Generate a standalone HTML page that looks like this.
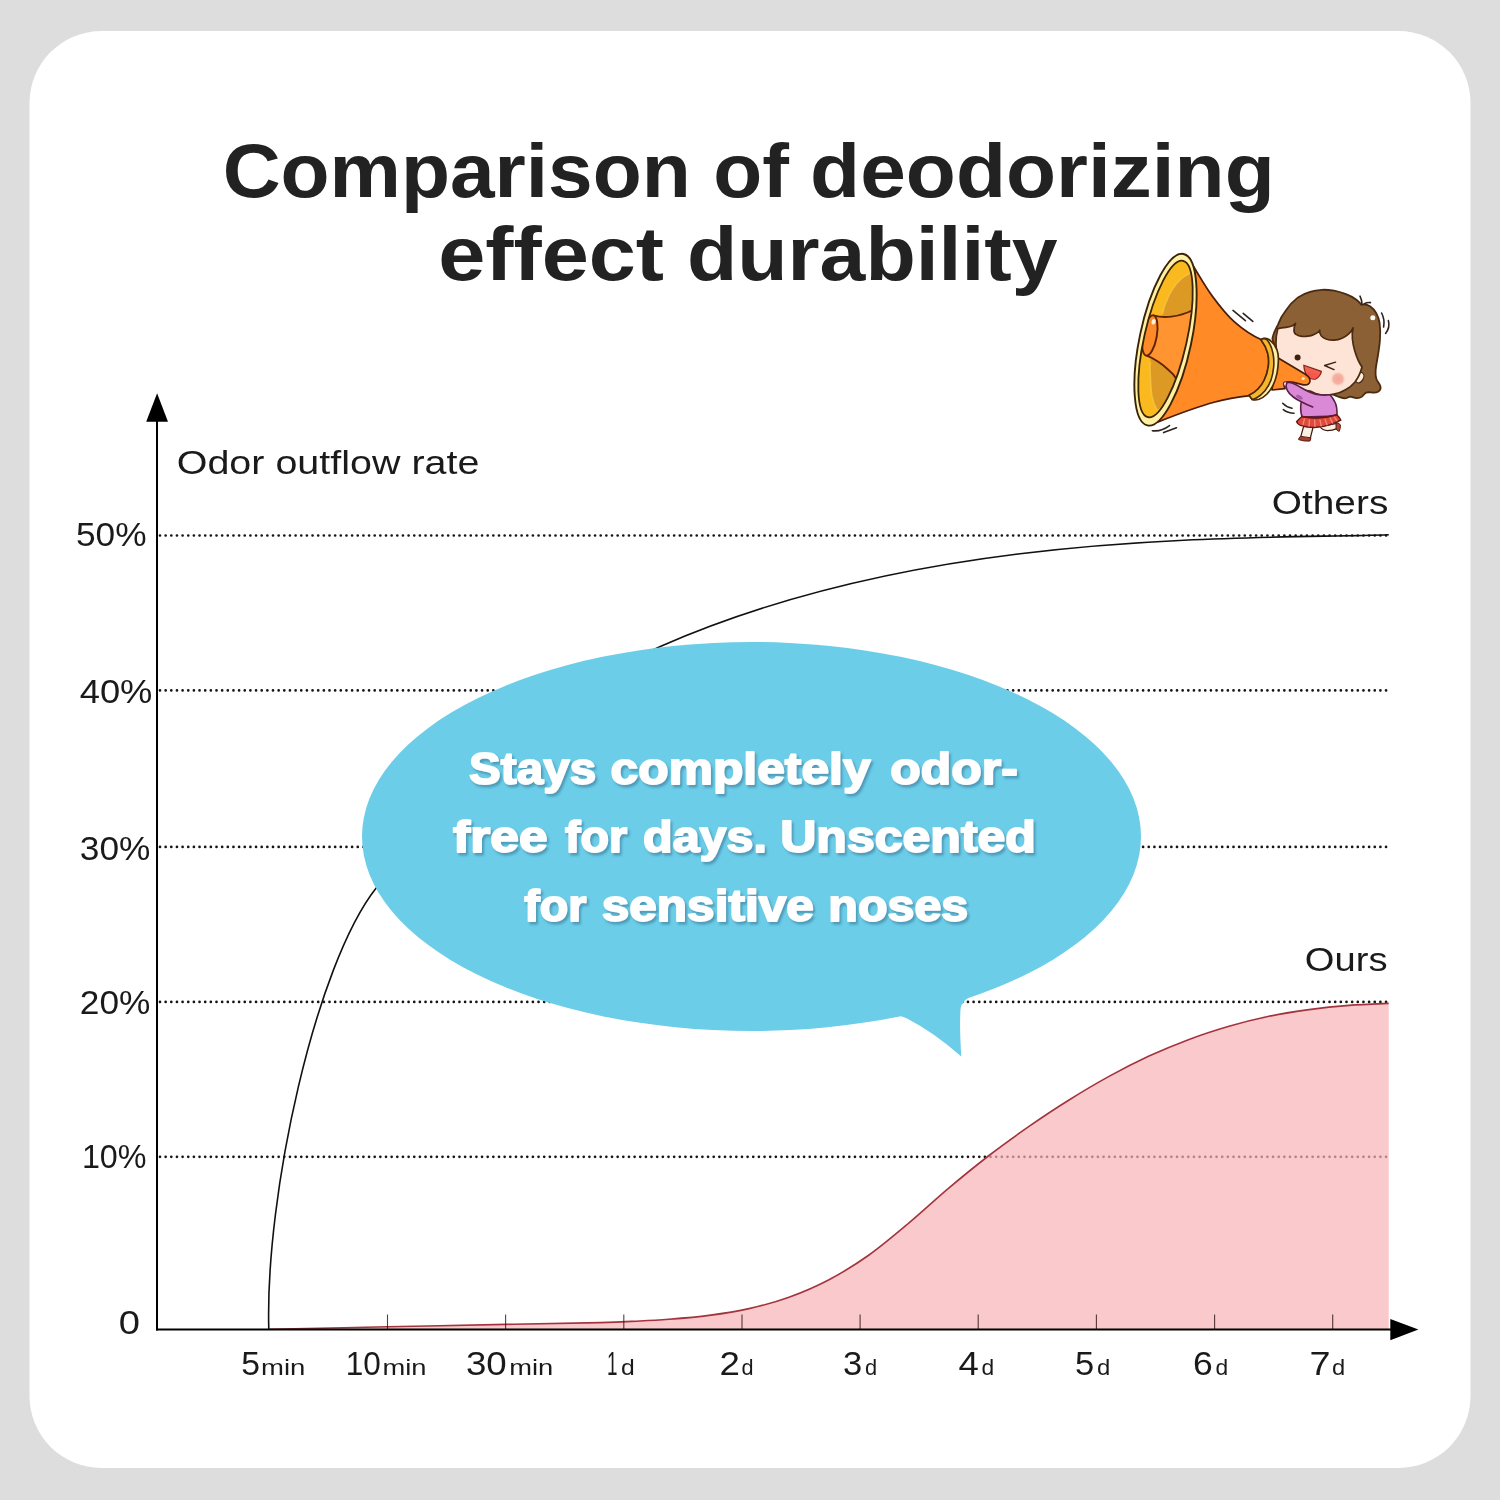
<!DOCTYPE html>
<html><head><meta charset="utf-8"><title>Comparison of deodorizing effect durability</title>
<style>
html,body{margin:0;padding:0;background:#dddddd;}
body{width:1500px;height:1500px;overflow:hidden;}
svg{display:block;font-family:"Liberation Sans",sans-serif;}
</style></head><body>
<svg width="1500" height="1500" viewBox="0 0 1500 1500">
<defs>
<filter id="ts" x="-5%" y="-20%" width="110%" height="150%"><feDropShadow dx="2" dy="2.6" stdDeviation="1.3" flood-color="#3c7d9b" flood-opacity="0.62"/></filter>
</defs>
<rect width="1500" height="1500" fill="#dddddd"/>
<rect x="29.5" y="31" width="1441" height="1437" rx="72" ry="72" fill="#ffffff"/>
<!-- grid -->
<g stroke="#151515" stroke-width="2.7" stroke-linecap="round" stroke-dasharray="0 5.65" fill="none">
<line x1="160" y1="535.5" x2="1388" y2="535.5"/>
<line x1="160" y1="690.4" x2="1388" y2="690.4"/>
<line x1="160" y1="846.9" x2="1388" y2="846.9"/>
<line x1="160" y1="1001.9" x2="1388" y2="1001.9"/>
<line x1="160" y1="1156.8" x2="1388" y2="1156.8"/>
</g>
<!-- others curve -->
<path d="M268.8 1329.5 C265 1194.7 315.5 965 376 888.2 C448.6 796 565.9 687.9 659.7 646.7 C927.6 529.1 1237 539.8 1388.8 534.7" fill="none" stroke="#111" stroke-width="1.6"/>
<!-- ours -->
<path d="M269.5 1329.3 C289.2 1328.9 348.6 1327.6 388.0 1326.8 C427.4 1326.0 470.7 1325.1 506.0 1324.4 C541.3 1323.7 577.7 1323.2 600.0 1322.6 C622.3 1322.0 628.5 1321.5 640.0 1321.0 C651.5 1320.5 657.5 1320.2 669.0 1319.3 C680.5 1318.4 695.7 1317.2 709.0 1315.4 C722.3 1313.6 735.7 1311.6 749.0 1308.6 C762.3 1305.6 775.7 1302.0 789.0 1297.2 C802.3 1292.4 815.7 1286.7 829.0 1279.7 C842.3 1272.7 855.7 1264.5 869.0 1255.0 C882.3 1245.5 895.7 1234.1 909.0 1222.9 C922.3 1211.7 935.7 1199.1 949.0 1187.9 C962.3 1176.7 975.7 1165.8 989.0 1155.5 C1002.3 1145.2 1015.7 1135.7 1029.0 1126.4 C1042.3 1117.2 1055.7 1108.3 1069.0 1100.0 C1082.3 1091.7 1095.7 1083.7 1109.0 1076.4 C1122.3 1069.1 1135.7 1062.3 1149.0 1056.1 C1162.3 1049.9 1175.7 1044.4 1189.0 1039.4 C1202.3 1034.4 1215.7 1030.1 1229.0 1026.2 C1242.3 1022.4 1255.7 1019.1 1269.0 1016.3 C1282.3 1013.5 1295.7 1011.4 1309.0 1009.6 C1322.3 1007.8 1335.7 1006.4 1349.0 1005.4 C1362.3 1004.4 1382.1 1003.7 1388.7 1003.4 L1388.7 1330 L269.5 1330 Z" fill="#f6b2b5" fill-opacity="0.7" stroke="none"/>
<path d="M269.5 1329.3 C289.2 1328.9 348.6 1327.6 388.0 1326.8 C427.4 1326.0 470.7 1325.1 506.0 1324.4 C541.3 1323.7 577.7 1323.2 600.0 1322.6 C622.3 1322.0 628.5 1321.5 640.0 1321.0 C651.5 1320.5 657.5 1320.2 669.0 1319.3 C680.5 1318.4 695.7 1317.2 709.0 1315.4 C722.3 1313.6 735.7 1311.6 749.0 1308.6 C762.3 1305.6 775.7 1302.0 789.0 1297.2 C802.3 1292.4 815.7 1286.7 829.0 1279.7 C842.3 1272.7 855.7 1264.5 869.0 1255.0 C882.3 1245.5 895.7 1234.1 909.0 1222.9 C922.3 1211.7 935.7 1199.1 949.0 1187.9 C962.3 1176.7 975.7 1165.8 989.0 1155.5 C1002.3 1145.2 1015.7 1135.7 1029.0 1126.4 C1042.3 1117.2 1055.7 1108.3 1069.0 1100.0 C1082.3 1091.7 1095.7 1083.7 1109.0 1076.4 C1122.3 1069.1 1135.7 1062.3 1149.0 1056.1 C1162.3 1049.9 1175.7 1044.4 1189.0 1039.4 C1202.3 1034.4 1215.7 1030.1 1229.0 1026.2 C1242.3 1022.4 1255.7 1019.1 1269.0 1016.3 C1282.3 1013.5 1295.7 1011.4 1309.0 1009.6 C1322.3 1007.8 1335.7 1006.4 1349.0 1005.4 C1362.3 1004.4 1382.1 1003.7 1388.7 1003.4" fill="none" stroke="#a3343d" stroke-width="1.6"/>
<g stroke="#2a1214" stroke-width="1.1" stroke-opacity="0.8" fill="none">
<line x1="387.5" y1="1314.5" x2="387.5" y2="1329"/>
<line x1="505.6" y1="1314.5" x2="505.6" y2="1329"/>
<line x1="623.8" y1="1314.5" x2="623.8" y2="1329"/>
<line x1="742.0" y1="1314.5" x2="742.0" y2="1329"/>
<line x1="860.1" y1="1314.5" x2="860.1" y2="1329"/>
<line x1="978.2" y1="1314.5" x2="978.2" y2="1329"/>
<line x1="1096.4" y1="1314.5" x2="1096.4" y2="1329"/>
<line x1="1214.6" y1="1314.5" x2="1214.6" y2="1329"/>
<line x1="1332.7" y1="1314.5" x2="1332.7" y2="1329"/>
</g>
<!-- axes -->
<g stroke="#000" stroke-width="2" fill="none">
<line x1="157" y1="420" x2="157" y2="1330.6"/>
<line x1="156" y1="1329.6" x2="1392" y2="1329.6"/>
</g>
<polygon points="146.2,421.8 168,421.8 157.1,393.2" fill="#000"/>
<polygon points="1390.3,1319 1390.3,1340.3 1418.4,1329.6" fill="#000"/>
<!-- bubble -->
<g fill="#6bcde8">
<ellipse cx="751.5" cy="836.5" rx="389.5" ry="194.5"/>
<path d="M896 1012 L901.5 1016.4 Q904 1016.6 907 1018.6 Q934 1032.5 961.3 1056.6 Q959.6 1030 960.3 1013.3 Q960.5 1005 962.7 1003.3 Q964 1000.5 967.5 998.2 L960 985 L900 1000 Z"/>
</g>
<g fill="#ffffff" stroke="#ffffff" stroke-width="1.8" stroke-linejoin="round" filter="url(#ts)">
<text x="469.13" y="784.0" font-size="44.30" font-weight="700" textLength="127.03" lengthAdjust="spacingAndGlyphs">Stays</text>
<text x="610.58" y="784.0" font-size="44.30" font-weight="700" textLength="260.01" lengthAdjust="spacingAndGlyphs">completely</text>
<text x="890.37" y="784.0" font-size="44.30" font-weight="700" textLength="127.40" lengthAdjust="spacingAndGlyphs">odor-</text>
<text x="453.10" y="852.4" font-size="44.30" font-weight="700" textLength="94.54" lengthAdjust="spacingAndGlyphs">free</text>
<text x="564.90" y="852.4" font-size="44.30" font-weight="700" textLength="62.35" lengthAdjust="spacingAndGlyphs">for</text>
<text x="643.11" y="852.4" font-size="44.30" font-weight="700" textLength="123.81" lengthAdjust="spacingAndGlyphs">days.</text>
<text x="780.24" y="852.4" font-size="44.30" font-weight="700" textLength="255.68" lengthAdjust="spacingAndGlyphs">Unscented</text>
<text x="524.30" y="920.7" font-size="44.30" font-weight="700" textLength="62.25" lengthAdjust="spacingAndGlyphs">for</text>
<text x="601.68" y="920.7" font-size="44.30" font-weight="700" textLength="212.23" lengthAdjust="spacingAndGlyphs">sensitive</text>
<text x="828.31" y="920.7" font-size="44.30" font-weight="700" textLength="139.98" lengthAdjust="spacingAndGlyphs">noses</text>
</g>
<!-- title -->
<g fill="#222222" opacity="0.999">
<text x="222.65" y="196.5" font-size="76.40" font-weight="700" textLength="468.15" lengthAdjust="spacingAndGlyphs">Comparison</text>
<text x="713.30" y="196.5" font-size="76.40" font-weight="700" textLength="75.71" lengthAdjust="spacingAndGlyphs">of</text>
<text x="810.08" y="196.5" font-size="76.40" font-weight="700" textLength="464.73" lengthAdjust="spacingAndGlyphs">deodorizing</text>
<text x="438.18" y="279.8" font-size="76.40" font-weight="700" textLength="225.90" lengthAdjust="spacingAndGlyphs">effect</text>
<text x="686.97" y="279.8" font-size="76.40" font-weight="700" textLength="370.58" lengthAdjust="spacingAndGlyphs">durability</text>
</g>
<!-- labels -->
<g fill="#1a1a1a" opacity="0.999">
<text x="176.72" y="473.9" font-size="33.60" font-weight="400" textLength="302.67" lengthAdjust="spacingAndGlyphs">Odor outflow rate</text>
<text x="1271.84" y="513.6" font-size="33.60" font-weight="400" textLength="116.47" lengthAdjust="spacingAndGlyphs">Others</text>
<text x="1304.86" y="971.4" font-size="33.60" font-weight="400" textLength="82.63" lengthAdjust="spacingAndGlyphs">Ours</text>
<text x="75.95" y="546.3" font-size="33.60" font-weight="400" textLength="70.65" lengthAdjust="spacingAndGlyphs">50%</text>
<text x="79.70" y="703.3" font-size="33.60" font-weight="400" textLength="72.73" lengthAdjust="spacingAndGlyphs">40%</text>
<text x="79.85" y="860.0" font-size="33.60" font-weight="400" textLength="70.55" lengthAdjust="spacingAndGlyphs">30%</text>
<text x="79.85" y="1014.4" font-size="33.60" font-weight="400" textLength="70.55" lengthAdjust="spacingAndGlyphs">20%</text>
<text x="81.88" y="1168.3" font-size="33.60" font-weight="400" textLength="64.65" lengthAdjust="spacingAndGlyphs">10%</text>
<text x="118.86" y="1333.7" font-size="33.60" font-weight="400" textLength="21.20" lengthAdjust="spacingAndGlyphs">0</text>
<text x="241.29" y="1374.8" font-size="33.60" font-weight="400" textLength="18.78" lengthAdjust="spacingAndGlyphs">5</text>
<text x="261.09" y="1374.8" font-size="22.80" font-weight="400" textLength="44.33" lengthAdjust="spacingAndGlyphs">min</text>
<text x="345.82" y="1374.8" font-size="33.60" font-weight="400" textLength="35.11" lengthAdjust="spacingAndGlyphs">10</text>
<text x="382.50" y="1374.8" font-size="22.80" font-weight="400" textLength="44.01" lengthAdjust="spacingAndGlyphs">min</text>
<text x="465.91" y="1374.8" font-size="33.60" font-weight="400" textLength="40.83" lengthAdjust="spacingAndGlyphs">30</text>
<text x="509.30" y="1374.8" font-size="22.80" font-weight="400" textLength="44.01" lengthAdjust="spacingAndGlyphs">min</text>
<text x="606.88" y="1374.8" font-size="33.60" font-weight="400" textLength="10.50" lengthAdjust="spacingAndGlyphs">1</text>
<text x="621.00" y="1374.8" font-size="22.80" font-weight="400" textLength="13.74" lengthAdjust="spacingAndGlyphs">d</text>
<text x="719.41" y="1374.8" font-size="33.60" font-weight="400" textLength="20.43" lengthAdjust="spacingAndGlyphs">2</text>
<text x="741.50" y="1374.8" font-size="22.80" font-weight="400" textLength="12.04" lengthAdjust="spacingAndGlyphs">d</text>
<text x="842.97" y="1374.8" font-size="33.60" font-weight="400" textLength="19.22" lengthAdjust="spacingAndGlyphs">3</text>
<text x="865.00" y="1374.8" font-size="22.80" font-weight="400" textLength="12.15" lengthAdjust="spacingAndGlyphs">d</text>
<text x="958.40" y="1374.8" font-size="33.60" font-weight="400" textLength="20.33" lengthAdjust="spacingAndGlyphs">4</text>
<text x="981.50" y="1374.8" font-size="22.80" font-weight="400" textLength="12.68" lengthAdjust="spacingAndGlyphs">d</text>
<text x="1074.97" y="1374.8" font-size="33.60" font-weight="400" textLength="19.22" lengthAdjust="spacingAndGlyphs">5</text>
<text x="1097.00" y="1374.8" font-size="22.80" font-weight="400" textLength="13.31" lengthAdjust="spacingAndGlyphs">d</text>
<text x="1192.94" y="1374.8" font-size="33.60" font-weight="400" textLength="19.77" lengthAdjust="spacingAndGlyphs">6</text>
<text x="1215.50" y="1374.8" font-size="22.80" font-weight="400" textLength="12.68" lengthAdjust="spacingAndGlyphs">d</text>
<text x="1309.58" y="1374.8" font-size="33.60" font-weight="400" textLength="21.01" lengthAdjust="spacingAndGlyphs">7</text>
<text x="1332.00" y="1374.8" font-size="22.80" font-weight="400" textLength="13.21" lengthAdjust="spacingAndGlyphs">d</text>
</g>
<!-- illustration -->
<g id="illus" stroke-linecap="round" stroke-linejoin="round">
<!-- ===== girl: hair back ===== -->
<path d="M1272.4 338.5 C1273.5 333 1275.5 329 1278 324.6 C1280 319 1282.5 314.5 1286 310.2 C1289.5 305 1293.5 300.8 1298 297.4 C1301.8 294.8 1305.8 293 1310 291.8 C1314 290.5 1318 290 1322 289.8 C1326 289.6 1330 290 1334 290.6 C1338 291.3 1342 292.6 1346 294.2 C1349.8 295.6 1353.3 297.5 1356.4 299.8 C1358.2 301.2 1359.8 302.8 1361.2 304.6 C1364.5 304 1367.5 304.6 1370 306.2 C1372.8 308 1374.9 310.5 1376.4 313.4 C1378 316.3 1379 319.6 1379.6 323 C1380.3 328.3 1380.4 333.6 1380 339 C1379.7 344.4 1378.9 349.7 1378 355 C1377.2 360.3 1375.9 365.6 1375.6 371 C1375.4 373.8 1375.5 376.5 1376.4 379 C1377.3 381.6 1379.6 383.6 1380.4 386.2 C1381 388.4 1379.9 390.6 1378 391.8 C1376.5 392.6 1374.8 392.7 1373.2 392.6 C1370.8 392.5 1368.3 391.8 1366 392.6 C1364.3 393.4 1363.4 395.4 1362 396.6 C1360.4 397.8 1358.4 398.3 1356.4 398.2 C1354.2 398.1 1352.2 396.6 1350 396.6 C1348.5 396.7 1347.4 398 1346 398.2 C1344.1 398.5 1342.2 398 1340.4 397.4 C1338.2 396.8 1336 396 1334 395 L1300 384 L1276 352 Z" fill="#8c6035" stroke="#4b2a12" stroke-width="1.8"/>
<!-- hair strands + motion lines near pony tail -->
<g fill="none" stroke="#2e2320" stroke-width="1.6">
<path d="M1360 296.2 Q1362 300 1362 304.6"/>
<path d="M1364.4 303.8 Q1367.5 302 1370.4 302.6"/>
<path d="M1381.6 313 Q1385 319.5 1383.6 327"/>
<path d="M1388.4 320.6 Q1390.2 327.5 1385.6 333.4"/>
</g>
<!-- ===== legs ===== -->
<path d="M1303.6 426.5 L1300.4 437.8 L1310.2 438.6 L1313 427.5 Z" fill="#fdf0e3" stroke="#3a1a10" stroke-width="1.2"/>
<path d="M1300.2 436.6 Q1298.2 438.6 1298.6 439.6 Q1304 441.6 1310 441 L1310.8 438.2 Z" fill="#a3432f" stroke="#5a1c12" stroke-width="1"/>
<path d="M1320 426.5 Q1322.5 430.5 1327.5 430.6 Q1332.5 430.6 1336.8 428.6 L1337 423.5 Z" fill="#fdf0e3" stroke="#3a1a10" stroke-width="1.2"/>
<path d="M1336.4 422.6 Q1339.6 423 1340.4 425 Q1340.6 428.5 1339.2 431.4 L1336.4 429.6 Z" fill="#b04a36" stroke="#5a1c12" stroke-width="1"/>
<!-- ===== sweater body ===== -->
<path d="M1301.3 401.7 C1300.4 406.5 1300.5 412 1302 417 L1337 416 C1337.2 410 1336.4 404.5 1334.7 401.7 C1333.4 399 1331.8 396.6 1330 394.7 L1312 392 Z" fill="#d989d6" stroke="#5c1f45" stroke-width="1.6"/>
<!-- ===== skirt ===== -->
<path d="M1302 416.5 Q1298.6 419.3 1296.6 421.8 Q1297.6 424.3 1300.4 425.4 Q1308.6 427.9 1316.8 427.3 Q1324 426.8 1330.2 424.6 Q1336 422.7 1340.8 420 Q1339.2 417.2 1336.8 414.8 Q1319 420 1302 416.5 Z" fill="#e04a3c" stroke="#6b1712" stroke-width="1.5"/>
<g stroke="#f3897c" stroke-width="1.3" fill="none">
<path d="M1304.4 419 L1303 424.6"/><path d="M1309.4 419.8 L1309 426"/><path d="M1314.6 420.2 L1315 426.3"/><path d="M1320 420 L1321.2 426"/><path d="M1325.2 419.4 L1327 424.8"/><path d="M1330.2 418.4 L1332.6 423"/><path d="M1334.4 417.2 L1337 420.8"/>
</g>
<path d="M1302 416.5 Q1319 420 1336.8 414.8" fill="none" stroke="#6b1712" stroke-width="1.3"/>
<circle cx="1372.8" cy="317.8" r="2.5" fill="#fffaf0"/>
<!-- ===== ear ===== -->
<ellipse cx="1359.6" cy="377.6" rx="3.8" ry="5.6" transform="rotate(28 1359.6 377.6)" fill="#fdeadd" stroke="#4b2a12" stroke-width="1.2"/>
<!-- ===== face (visible part, top edge = fringe) ===== -->
<path d="M1277.8 328.6 C1280 327.9 1283 327.5 1286 327.3 C1288.4 327.1 1290.6 326.5 1292.4 325.7 C1293.8 325.1 1294.8 324.4 1295.6 323.4 C1294.4 325.6 1293.8 328.4 1294 331.2 C1294.3 332.6 1295 333.6 1296 334.4 C1297.8 335.6 1299.8 336.2 1302 336.4 C1304 336.6 1306 336.5 1308 336.2 C1310.2 335.9 1312.2 335.3 1314 334.4 C1315.8 333.7 1317.5 332.8 1318.8 331.6 C1319.3 331.2 1319.6 330.7 1319.8 330.2 C1319.4 332 1319.8 334 1321.2 335.8 C1322.5 337.3 1324.2 338.3 1326 339 C1328.6 339.9 1331.3 340.3 1334 340.2 C1336.8 340.1 1339.5 339.4 1342 338.2 C1344.4 337.2 1346.6 335.9 1348.4 334.2 C1350.4 332.4 1352 330.2 1353.2 327.8 C1352.2 331.5 1352 335.3 1352.4 339 C1352.8 343.1 1353.6 347.1 1354.8 351 C1355.7 354 1356.7 357 1358 359.8 C1359.1 362.3 1360.5 364.7 1362 367 C1360.6 372.6 1358.2 377.8 1354.8 382.2 C1352.3 385.2 1349.3 387.6 1346 389.4 C1342.3 391.6 1338.2 393.3 1334 394.2 C1330.1 395 1326 395.4 1322 395 C1317.8 394.5 1313.7 393.2 1310 391 C1304 390.5 1296 389 1290 386 C1283 381 1279.5 368 1278 358 C1275.4 350 1275.2 338 1277.8 328.6 Z" fill="#fde4d6" stroke="#4b2a12" stroke-width="1.7"/>
<!-- blush -->
<defs><radialGradient id="blush"><stop offset="0" stop-color="#f4a596"/><stop offset="0.6" stop-color="#f6b2a3"/><stop offset="1" stop-color="#fde4d6" stop-opacity="0"/></radialGradient></defs>
<circle cx="1338" cy="379" r="8.2" fill="url(#blush)"/>
<!-- eyes -->
<circle cx="1297.6" cy="357.4" r="3" fill="#3f2112"/>
<path d="M1335.6 362.2 L1324.6 365.5 L1334 369.6" fill="none" stroke="#3f2112" stroke-width="1.4"/>
<!-- mouth -->
<path d="M1303.8 365.2 L1321.4 371.4 Q1320.4 376.6 1315.2 379.2 Q1310.5 379.6 1307.6 376.4 Q1304.2 372 1303.8 365.2 Z" fill="#f0644f" stroke="#8a1f18" stroke-width="1.2"/>
<path d="M1306.4 372.6 Q1312 371.2 1319.4 375 Q1317.6 378 1315 378.8 Q1310.6 379 1308 376.2 Q1306.8 374.6 1306.4 372.6 Z" fill="#f7554e"/>
<!-- ===== megaphone ===== -->
<!-- mouthpiece -->
<path d="M1276.5 357 L1304.6 373.8 Q1310.6 377.4 1310 381.4 Q1309 385.6 1303.4 384.8 L1293.4 382.4 Q1288 381 1285.2 382.8 Q1283.4 384.8 1285 388.6 L1272 390 Z" fill="#ff8a26" stroke="#4a1d08" stroke-width="1.7"/>
<ellipse cx="1303.2" cy="378.6" rx="1.7" ry="1.3" fill="#ffe9b0"/>
<!-- cone body -->
<path d="M1193.5 266.5 C1200 277 1206 287.5 1211.5 295 C1217 302.5 1225 313.5 1234.4 321.8 C1243 329.4 1252 335.5 1262 340 C1272 350 1274 372 1262 390 L1250 395.6 C1237 397.2 1224 399.6 1215 402 C1198 406.6 1178 414 1158 422 L1150 350 Z" fill="#ff8a26" stroke="#4a1d08" stroke-width="1.8"/>
<!-- neck ring: pale band then gold band -->
<path d="M1261 339.7 Q1264.5 337.4 1268.5 339.3 C1272.5 341.6 1275.5 346 1277 350 C1278.2 353.2 1278.5 356.6 1278.4 360 C1278.3 364.5 1277.9 369 1277 373.3 C1276.1 377.5 1274.8 381.6 1273 385.3 C1271.4 388.5 1269.4 391.5 1267 394 C1264.7 396.3 1262 398.2 1259 399.3 Q1255 400.6 1252.2 399.4 L1249 395.3 C1252.3 394 1255.3 391.9 1257.7 389.3 C1260.5 386.6 1262.8 383.4 1264.3 380 C1266.3 375.8 1267.7 371.3 1268.3 366.7 C1268.9 362.2 1268.8 357.6 1267.7 353.3 C1266.5 348.5 1264.3 344 1261 339.7 Z" fill="#fff1ad" stroke="#4a2a06" stroke-width="1.7"/>
<path d="M1261 339.7 Q1264 337.6 1266.8 339.6 C1269.8 342.6 1271.8 347.6 1273 353.3 C1273.9 357.7 1274 362.2 1273.7 366.7 C1273.3 371.3 1272.5 375.8 1271 380 C1269.6 384 1267.6 387.6 1265 390.7 C1262.6 393.6 1259.6 396.2 1256.3 398 Q1253.6 399.4 1252.2 399.4 L1249 395.3 C1252.3 394 1255.3 391.9 1257.7 389.3 C1260.5 386.6 1262.8 383.4 1264.3 380 C1266.3 375.8 1267.7 371.3 1268.3 366.7 C1268.9 362.2 1268.8 357.6 1267.7 353.3 C1266.5 348.5 1264.3 344 1261 339.7 Z" fill="#f5b52c" stroke="#4a2a06" stroke-width="1.6"/>
<!-- bell -->
<ellipse cx="1165.5" cy="339.7" rx="25.9" ry="87.6" transform="rotate(11.9 1165.5 339.7)" fill="#fff0a4" stroke="#3b2405" stroke-width="1.9"/>
<g>
<clipPath id="bellclip"><ellipse cx="1165.5" cy="339" rx="21.3" ry="80.1" transform="rotate(12.7 1165.5 339)"/></clipPath>
<ellipse cx="1165.5" cy="339" rx="21.3" ry="80.1" transform="rotate(12.7 1165.5 339)" fill="#fab91f"/>
<g clip-path="url(#bellclip)">
<!-- darker gold regions -->
<path d="M1162.5 316 C1163 310 1164.5 305 1166.3 301.7 C1168 297 1170.2 292.4 1173 288.3 C1175.4 284.6 1178.2 281 1181.7 278.3 C1184 276.3 1186.5 274.8 1189.3 273.7 L1200 270 L1200 312 L1180 318 Z" fill="#dc9a24"/>
<path d="M1150.3 359 C1150 366 1150 371 1150.3 375 C1150.5 382 1151 389 1151.7 395 C1152.6 400.5 1154.4 405.6 1157 410 L1166 404 L1180 376 L1160 358 Z" fill="#dc9a24"/>
<path d="M1162.8 313 C1163.4 308 1164.8 304.5 1166.3 301.7 C1168 297 1170.2 292.4 1173 288.3 C1175.4 284.6 1178.2 281 1181.7 278.3 C1184 276.3 1186.5 274.8 1189.3 273.7" fill="none" stroke="#f7c440" stroke-width="1.6" stroke-opacity="0.8"/>
<path d="M1150.3 362 C1150 366 1150 371 1150.3 375 C1150.5 382 1151 389 1151.7 395 C1152.6 400.5 1154.4 405.6 1157 410" fill="none" stroke="#f7c440" stroke-width="1.6" stroke-opacity="0.8"/>
<!-- tube -->
<path d="M1153.3 315.4 C1159 317 1165 317.4 1171.3 316.6 C1178 315.8 1185 314 1192 310.5 L1196 340 L1176.5 379.2 C1174.5 375.5 1171.6 372.3 1168.3 369.7 C1165.2 366.8 1161.8 364 1158.3 361.7 C1154.4 359.2 1150.2 357 1145.7 355.2 Z" fill="#ff9430" stroke="#5f2306" stroke-width="1.9"/>
<!-- tube cap -->
<ellipse cx="1149.8" cy="335.5" rx="7" ry="20.4" transform="rotate(10 1149.8 335.5)" fill="#ff8a28" stroke="#5f2306" stroke-width="1.9"/>
<ellipse cx="1153.6" cy="321.8" rx="2" ry="2.8" transform="rotate(15 1153.6 321.8)" fill="#fff3e0"/>
</g>
<ellipse cx="1165.5" cy="339" rx="21.3" ry="80.1" transform="rotate(12.7 1165.5 339)" fill="none" stroke="#3b2405" stroke-width="1.8"/>
</g>
<!-- ===== arm + hand over mouthpiece ===== -->
<ellipse cx="1285.8" cy="384.4" rx="2.1" ry="2.7" transform="rotate(-35 1285.8 384.4)" fill="#fdeee6" stroke="#5c1f45" stroke-width="1"/>
<path d="M1287.2 382.6 C1291 381.4 1296 384.6 1300 387 C1303.4 389 1306.6 390.8 1310 392.3 C1313.4 393.8 1317 394.8 1320.7 395 C1323.8 395.2 1327 395.2 1330 394.7 L1325 404 L1312.7 407 C1308.8 405.4 1305 403.7 1301.3 401.7 C1298.4 400.4 1295.7 398.9 1293.3 397 C1290.8 395.2 1288.6 393 1287.3 390.3 C1286 387.6 1285.8 384.6 1287.2 382.6 Z" fill="#d989d6"/>
<path d="M1330 394.7 C1327 395.2 1323.8 395.2 1320.7 395 C1317 394.8 1313.4 393.8 1310 392.3 C1306.6 390.8 1303.4 389 1300 387 C1296 384.6 1291 381.4 1287.2 382.6 C1285.8 384.6 1286 387.6 1287.3 390.3 C1288.6 393 1290.8 395.2 1293.3 397 C1295.7 398.9 1298.4 400.4 1301.3 401.7 C1305 403.7 1308.8 405.4 1312.7 407" fill="none" stroke="#5c1f45" stroke-width="1.6"/>
<ellipse cx="1299.4" cy="397.2" rx="3.6" ry="1.7" transform="rotate(28 1299.4 397.2)" fill="#a85aae"/>
<!-- ===== motion lines ===== -->
<g fill="none" stroke="#2e2320" stroke-width="1.6">
<path d="M1233 310.4 L1245.4 320.7"/>
<path d="M1243.2 313.3 L1252.8 321.4"/>
<path d="M1152.3 430.7 Q1161 432 1169.5 425.6"/>
<path d="M1163.6 432.6 L1176.5 427.8"/>
<path d="M1282.7 403.3 Q1286.7 407.4 1292 408.3"/>
<path d="M1283.3 409.7 Q1288 413.3 1294 413.3"/>
</g>
</g>

</svg>
</body></html>
